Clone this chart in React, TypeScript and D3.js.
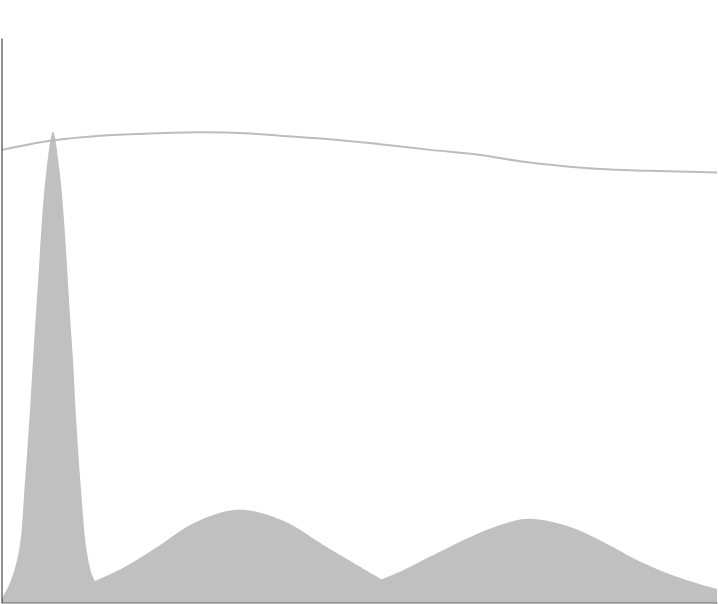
import { useEffect, useRef } from "react"
import * as d3 from "d3"

// density-like area (x and y in 0..100 units)
const areaX = [0, 1.1, 2.4, 3.2, 3.85, 4.34, 4.69, 5.15, 5.59, 6.22, 7.13, 8.04, 8.67, 9.12, 9.55, 9.93, 10.35, 10.98, 11.82, 12.59, 13.0, 16.9, 21.7, 26.3, 30.9, 33.3, 35.7, 40.3, 44.9, 49.7, 53.1, 56.1, 60.8, 65.5, 70.1, 73.8, 79.4, 84.1, 88.8, 93.4, 98.0, 100]
const areaY = [0.9, 3.5, 9.4, 21.2, 32.9, 43.0, 50.1, 58.9, 67.8, 76.6, 83.4, 76.6, 67.8, 58.9, 50.1, 43.0, 32.9, 21.2, 9.4, 5.0, 3.9, 6.2, 9.9, 13.8, 16.1, 16.5, 16.1, 14.0, 10.3, 6.7, 4.2, 5.8, 8.8, 11.7, 14.0, 14.9, 13.5, 10.8, 7.6, 5.1, 3.2, 2.5]

// the area has sharp dips at these x positions
const dips = [13.0, 53.1]

// smooth line across the top
const lineX = [0, 6.7, 13.7, 20.7, 27.7, 34.7, 38.9, 45.9, 52.9, 59.9, 66.9, 72.4, 78.0, 83.6, 90.6, 100]
const lineY = [80.2, 81.8, 82.7, 83.1, 83.3, 83.1, 82.7, 82.1, 81.2, 80.2, 79.3, 78.2, 77.4, 76.8, 76.5, 76.2]

type Pt = { x: number; y: number }

export default function App() {
  const svgRef = useRef<SVGSVGElement | null>(null)

  useEffect(() => {
    if (!svgRef.current) return
    d3.select(svgRef.current).selectAll("*").remove()

    const W = 718
    const H = 604
    const margin = { top: 38, right: 1, bottom: 1, left: 2 }

    const svg = d3.select(svgRef.current)

    const x = d3.scaleLinear().domain([0, 100]).range([margin.left, W - margin.right])
    const y = d3.scaleLinear().domain([0, 100]).range([H - margin.bottom, margin.top])

    const areaData: Pt[] = areaX.map((v, i) => ({ x: v, y: areaY[i] }))
    const lineData: Pt[] = lineX.map((v, i) => ({ x: v, y: lineY[i] }))

    const smooth = d3
      .line<Pt>()
      .x((d) => x(d.x))
      .y((d) => y(d.y))
      .curve(d3.curveCatmullRom.alpha(0.5))

    // split at the dips so each hump is smoothed on its own, then join into one outline
    const bounds = [0, ...dips, 100]
    const top = d3
      .range(bounds.length - 1)
      .map((i) => areaData.filter((d) => d.x >= bounds[i] && d.x <= bounds[i + 1]))
      .map((piece, i) => {
        const d = smooth(piece) || ""
        return i === 0 ? d : "L" + d.slice(1)
      })
      .join("")
    const outline = `${top}L${x(100)},${y(0)}L${x(0)},${y(0)}Z`

    svg.append("path").attr("d", outline).attr("fill", "#c0c0c0")

    svg
      .append("path")
      .datum(lineData)
      .attr("d", smooth)
      .attr("fill", "none")
      .attr("stroke", "#bcbcbc")
      .attr("stroke-width", 2)

    // bottom axis (no ticks)
    const xAxis = svg
      .append("g")
      .attr("transform", `translate(0,${H - margin.bottom - 0.5})`)
      .call(d3.axisBottom(x).ticks(0).tickSizeOuter(0))
    xAxis.select(".domain").attr("stroke", "#666")

    // left axis (no ticks)
    const yAxis = svg
      .append("g")
      .attr("transform", `translate(${margin.left - 0.5},0)`)
      .call(d3.axisLeft(y).ticks(0).tickSizeOuter(0))
    yAxis.select(".domain").attr("stroke", "#222")
  }, [])

  return (
    <svg
      ref={svgRef}
      width={718}
      height={604}
      style={{ position: "absolute", left: 0, top: 0, background: "#fff" }}
    ></svg>
  )
}
